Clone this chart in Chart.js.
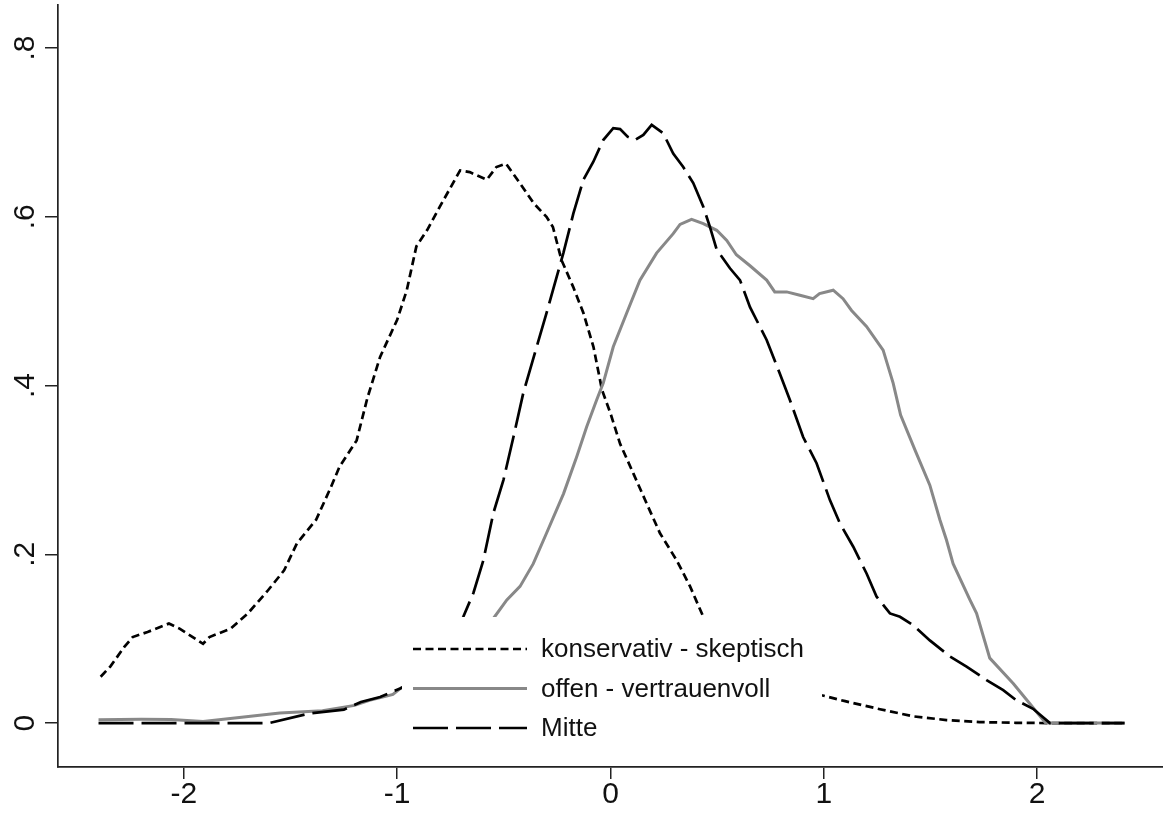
<!DOCTYPE html>
<html>
<head>
<meta charset="utf-8">
<title>Kerndichte</title>
<script src="https://cdn.jsdelivr.net/npm/chart.js@4.4.1/dist/chart.umd.min.js"></script>
<style>
  html, body { margin: 0; padding: 0; background: #fff; }
  #wrap { width: 1163px; height: 817px; }
</style>
</head>
<body>
<div id="wrap"><canvas id="dichte" width="1163" height="817"></canvas></div>
<script>
//daten konservativ - skeptisch
const konsX = [-2.39, -2.345, -2.28, -2.24, -2.17, -2.07, -2.02, -1.91, -1.88, -1.78, -1.70, -1.61, -1.53, -1.47, -1.38, -1.31, -1.27, -1.19, -1.14, -1.08, -1.00, -0.955, -0.91, -0.86, -0.80, -0.705, -0.66, -0.58, -0.535, -0.49, -0.425, -0.36, -0.30, -0.27, -0.23, -0.175, -0.127, -0.08, -0.04, 0.00, 0.045, 0.107, 0.17, 0.232, 0.31, 0.373, 0.435, 0.5, 0.6, 0.7, 0.8, 0.9, 0.99, 1.10, 1.263, 1.42, 1.575, 1.73, 1.9, 2.06, 2.41];
const konsY = [0.055, 0.067, 0.090, 0.102, 0.108, 0.118, 0.112, 0.094, 0.102, 0.112, 0.130, 0.156, 0.181, 0.213, 0.241, 0.280, 0.304, 0.335, 0.385, 0.434, 0.478, 0.513, 0.565, 0.584, 0.612, 0.655, 0.653, 0.644, 0.659, 0.663, 0.640, 0.616, 0.600, 0.588, 0.549, 0.517, 0.486, 0.446, 0.395, 0.367, 0.331, 0.296, 0.260, 0.225, 0.193, 0.162, 0.126, 0.105, 0.082, 0.065, 0.052, 0.041, 0.033, 0.026, 0.0165, 0.008, 0.0036, 0.0012, 0.0004, 0, 0];

//daten offen - vertrauenvoll
const offenX = [-2.40, -2.2, -2.06, -1.91, -1.74, -1.55, -1.35, -1.2, -1.13, -1.05, -1.02, -0.986, -0.9, -0.8, -0.7, -0.6, -0.549, -0.486, -0.424, -0.362, -0.30, -0.22, -0.158, -0.112, -0.065, -0.034, 0.013, 0.076, 0.138, 0.216, 0.294, 0.326, 0.38, 0.435, 0.498, 0.545, 0.59, 0.654, 0.732, 0.77, 0.826, 0.888, 0.95, 0.98, 1.044, 1.09, 1.13, 1.20, 1.278, 1.325, 1.36, 1.43, 1.497, 1.544, 1.575, 1.606, 1.685, 1.716, 1.778, 1.888, 1.966, 2.04, 2.41];
const offenY = [0.004, 0.0045, 0.0044, 0.002, 0.0067, 0.012, 0.0146, 0.021, 0.027, 0.032, 0.034, 0.041, 0.052, 0.068, 0.088, 0.110, 0.124, 0.146, 0.162, 0.189, 0.225, 0.272, 0.316, 0.351, 0.383, 0.403, 0.446, 0.486, 0.525, 0.557, 0.580, 0.591, 0.597, 0.592, 0.584, 0.572, 0.555, 0.542, 0.525, 0.511, 0.511, 0.507, 0.503, 0.509, 0.513, 0.503, 0.489, 0.470, 0.442, 0.403, 0.365, 0.322, 0.282, 0.241, 0.217, 0.189, 0.146, 0.130, 0.077, 0.047, 0.023, 0, 0];

//daten Mitte
const mitteX = [-2.40, -1.60, -1.41, -1.25, -1.17, -1.08, -0.986, -0.9, -0.8, -0.74, -0.69, -0.643, -0.596, -0.549, -0.502, -0.455, -0.409, -0.346, -0.30, -0.252, -0.221, -0.174, -0.127, -0.081, -0.034, 0.013, 0.045, 0.08, 0.115, 0.154, 0.193, 0.247, 0.294, 0.341, 0.388, 0.435, 0.466, 0.498, 0.56, 0.607, 0.654, 0.732, 0.794, 0.841, 0.903, 0.966, 1.029, 1.075, 1.138, 1.201, 1.247, 1.31, 1.357, 1.419, 1.497, 1.591, 1.669, 1.763, 1.841, 1.903, 1.981, 2.06, 2.41];
const mitteY = [0, 0, 0.0115, 0.016, 0.025, 0.031, 0.041, 0.052, 0.075, 0.098, 0.126, 0.154, 0.193, 0.249, 0.288, 0.339, 0.391, 0.446, 0.486, 0.529, 0.557, 0.604, 0.644, 0.665, 0.691, 0.705, 0.704, 0.695, 0.691, 0.697, 0.709, 0.699, 0.675, 0.659, 0.640, 0.612, 0.588, 0.561, 0.539, 0.525, 0.493, 0.454, 0.414, 0.383, 0.339, 0.308, 0.264, 0.237, 0.209, 0.177, 0.150, 0.130, 0.126, 0.116, 0.098, 0.079, 0.067, 0.051, 0.039, 0.027, 0.017, 0, 0];

const seriesNames = ["konservativ - skeptisch", "offen - vertrauenvoll", "Mitte"];
const xTicks = [-2, -1, 0, 1, 2];
const xTickLabels = ["-2", "-1", "0", "1", "2"];
const yTicks = [0, 0.2, 0.4, 0.6, 0.8];
const yTickLabels = ["0", ".2", ".4", ".6", ".8"];

const schrift = "'Liberation Sans', Arial, sans-serif";

function punkte(xs, ys) {
	return xs.map((x, i) => ({ x: x, y: ys[i] }));
}

// y-achse beschriftung gedreht (wie stata)
const yBeschriftung = {
	id: "yBeschriftung",
	afterDraw(chart) {
		const sc = chart.scales.y;
		const ctx = chart.ctx;
		ctx.save();
		ctx.fillStyle = "#111";
		ctx.font = "30px " + schrift;
		ctx.textAlign = "center";
		ctx.textBaseline = "alphabetic";
		yTicks.forEach((v, i) => {
			ctx.save();
			ctx.translate(34, sc.getPixelForValue(v));
			ctx.rotate(-Math.PI / 2);
			ctx.fillText(yTickLabels[i], 0, 0);
			ctx.restore();
		});
		ctx.restore();
	},
};

// legende im plotbereich mit weissem hintergrund
const legendeBox = {
	id: "legendeBox",
	afterDatasetsDraw(chart) {
		const ctx = chart.ctx;
		ctx.save();
		ctx.fillStyle = "#fff";
		ctx.fillRect(402, 617, 420, 145);
		chart.data.datasets.forEach((ds, i) => {
			const y = 649 + i * 39.5;
			ctx.strokeStyle = ds.borderColor;
			ctx.lineWidth = ds.borderWidth;
			ctx.setLineDash(ds.borderDash || []);
			ctx.beginPath();
			ctx.moveTo(413, y);
			ctx.lineTo(527, y);
			ctx.stroke();
			ctx.setLineDash([]);
			ctx.fillStyle = "#111";
			ctx.font = "26px " + schrift;
			ctx.textAlign = "left";
			ctx.textBaseline = "middle";
			ctx.fillText(ds.label, 541, y + 1);
		});
		ctx.restore();
	},
};

let dichte = document.getElementById("dichte").getContext("2d");
let dichteChart = new Chart(dichte, {
	type: "line",
	data: {
		datasets: [
			{
				label: seriesNames[0],
				data: punkte(konsX, konsY),
				borderColor: "#000",
				borderWidth: 2.7,
				borderDash: [8, 4.5],
				pointRadius: 0,
				tension: 0,
				order: 3,
			},
			{
				label: seriesNames[1],
				data: punkte(offenX, offenY),
				borderColor: "#888888",
				borderWidth: 3,
				pointRadius: 0,
				tension: 0,
				order: 2,
			},
			{
				label: seriesNames[2],
				data: punkte(mitteX, mitteY),
				borderColor: "#000",
				borderWidth: 2.7,
				borderDash: [35, 8],
				pointRadius: 0,
				tension: 0,
				order: 1,
			},
		],
	},
	options: {
		responsive: false,
		animation: false,
		layout: {
			padding: { top: 5, right: 0, left: 0, bottom: 0 },
		},
		scales: {
			x: {
				type: "linear",
				min: -2.59,
				max: 2.59,
				afterBuildTicks: (axis) => {
					axis.ticks = xTicks.map((v) => ({ value: v }));
				},
				afterFit: (axis) => {
					axis.height = 50;
				},
				grid: {
					drawOnChartArea: false,
					drawTicks: true,
					tickLength: 12,
					color: "#222",
					lineWidth: 1.5,
				},
				border: { display: true, color: "#222", width: 1.7 },
				ticks: {
					color: "#111",
					font: { family: schrift, size: 30, lineHeight: 1 },
					padding: 1,
					maxRotation: 0,
					callback: (v) => xTickLabels[xTicks.indexOf(v)],
				},
			},
			y: {
				type: "linear",
				min: -0.052,
				max: 0.851,
				afterBuildTicks: (axis) => {
					axis.ticks = yTicks.map((v) => ({ value: v }));
				},
				afterFit: (axis) => {
					axis.width = 58;
				},
				grid: {
					drawOnChartArea: false,
					drawTicks: true,
					tickLength: 13,
					color: "#222",
					lineWidth: 1.5,
				},
				border: { display: true, color: "#222", width: 1.7 },
				ticks: {
					display: false,
				},
			},
		},
		plugins: {
			legend: { display: false },
			tooltip: { enabled: false },
			title: { display: false },
		},
	},
	plugins: [legendeBox, yBeschriftung],
});
</script>
</body>
</html>
